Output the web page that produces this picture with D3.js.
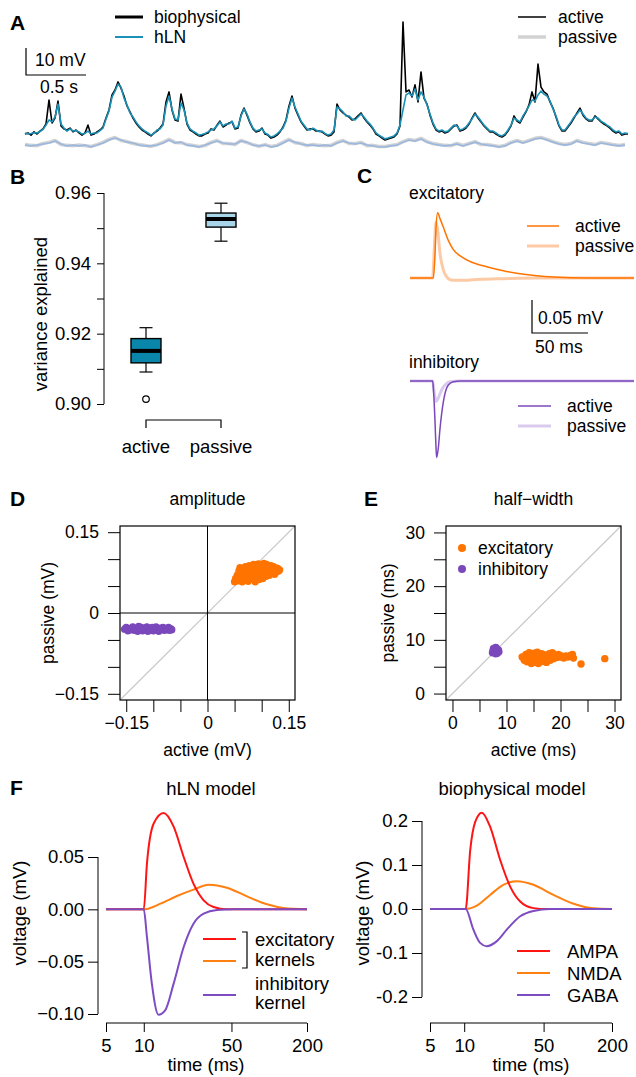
<!DOCTYPE html>
<html>
<head>
<meta charset="utf-8">
<script src="https://cdn.jsdelivr.net/npm/d3@7"></script>
<style>
body { margin: 0; background: #fff; }
svg text { font-family: "Liberation Sans", Arial, sans-serif; font-size: 17.5px; fill: #000; }
svg text.big { font-size: 18.5px; }
svg text.leg { font-size: 17.5px; }
svg text.letter { font-weight: bold; font-size: 21px; }
</style>
</head>
<body>
<svg id="fig" width="636" height="1077"></svg>
<script>
// ---------- data ----------
// A: voltage traces (mV above rest), one sample every 25 ms
var dtActive = 0.025;
var activeBio = [
  1.1,1.5,0.7,1.9,1.1,2.2,3.0,4.8,13.7,5.2,
  7.0,13.3,4.1,3.0,2.6,3.3,1.9,2.6,1.5,0.7,
  1.5,4.4,0.7,1.1,1.9,2.6,3.7,7.0,10.0,15.6,
  17.4,20.4,18.1,15.2,11.5,9.3,7.0,5.2,3.7,2.6,
  1.9,1.1,0.4,1.5,2.2,3.3,4.8,13.0,16.7,10.0,
  6.3,5.9,15.9,10.7,4.8,2.6,1.9,1.1,0.4,0.4,
  1.1,1.5,3.0,2.6,4.4,5.9,3.7,4.4,5.2,5.6,
  3.0,3.3,8.1,10.7,8.1,5.2,3.0,1.9,2.2,3.3,
  1.1,0.7,-0.4,0.0,0.7,1.9,3.7,6.3,11.5,15.2,
  10.7,8.1,5.6,4.1,2.6,3.0,3.0,2.2,2.2,1.9,
  1.1,0.4,0.7,1.9,12.2,10.0,8.9,8.1,7.4,6.3,
  6.7,7.8,8.9,7.0,5.6,4.4,3.0,1.1,0.4,-0.4,
  -1.1,-0.7,-0.4,0.0,1.1,4.1,42.6,16.7,17.4,14.8,
  19.3,13.0,24.1,14.4,12.2,8.1,4.8,2.6,1.9,2.2,
  1.5,1.9,3.0,4.1,4.4,2.2,2.6,3.3,4.8,7.0,
  8.9,7.0,5.6,4.1,3.0,1.9,1.9,1.1,0.4,0.0,
  0.7,2.2,4.1,7.8,5.9,5.2,7.4,9.3,11.9,16.7,
  13.0,27.0,18.5,16.7,15.9,13.0,10.7,7.4,4.1,2.2,
  2.2,3.7,5.2,7.0,8.9,10.7,8.1,6.7,5.9,5.9,
  7.8,6.7,5.6,4.8,4.1,3.3,2.2,1.5,1.9,0.7,
  1.1,1.1
];
var activeHln = [
  1.5,1.1,1.3,1.6,1.5,2.0,2.8,4.4,6.3,5.6,
  7.4,12.2,4.8,3.3,2.2,3.0,2.2,2.4,1.9,1.1,
  1.3,2.2,1.1,1.5,1.5,2.4,3.3,6.7,9.6,14.8,
  17.0,19.6,18.5,14.4,11.9,8.9,7.4,5.6,4.1,3.0,
  2.2,1.5,0.7,1.3,2.6,3.0,4.4,11.5,15.2,10.4,
  6.7,6.3,12.6,10.0,5.2,3.0,2.2,1.5,0.7,0.9,
  1.3,1.9,2.6,3.0,4.1,5.6,4.1,4.8,4.8,5.9,
  3.3,3.7,7.8,10.4,8.5,5.6,3.3,2.2,2.6,3.0,
  1.5,0.9,0.0,0.4,1.1,2.2,3.3,5.9,10.7,14.4,
  11.1,8.5,5.9,4.4,3.0,2.6,3.3,2.6,2.0,2.2,
  1.3,0.7,1.1,2.6,11.1,10.4,9.3,7.8,7.8,6.7,
  6.3,7.4,8.5,7.4,5.9,4.8,3.3,1.5,0.7,0.0,
  -0.7,-0.4,0.0,0.4,1.5,4.4,10.0,15.6,16.3,15.2,
  17.8,13.7,16.7,14.8,11.9,8.5,5.2,3.0,2.2,2.6,
  1.9,2.2,3.3,4.4,4.1,2.6,3.0,3.7,5.2,6.7,
  8.5,7.4,5.9,4.4,3.3,2.2,2.2,1.5,0.7,0.4,
  1.1,2.6,4.4,7.0,6.3,5.6,7.8,9.6,11.5,13.7,
  13.3,15.6,17.0,15.9,15.2,13.3,10.4,7.8,4.4,2.6,
  2.6,4.1,5.6,7.4,8.5,10.0,8.5,7.0,6.3,6.3,
  7.4,7.0,5.9,5.2,4.4,3.7,2.6,1.9,2.2,1.1,
  1.5,1.3
];
// passive traces, one sample every 50 ms
var dtPassive = 0.05;
var passiveBio = [
  -2.8,-3.1,-3.2,-2.4,-2.0,-1.3,-2.8,-3.1,-3.2,-3.0,
  -3.2,-3.5,-2.8,-2.0,-0.9,-0.2,-1.3,-1.7,-2.4,-2.8,
  -3.1,-3.5,-2.8,-2.0,-0.9,-2.0,-2.1,-2.8,-3.1,-3.5,
  -3.2,-2.0,-1.3,-2.4,-2.4,-2.8,-1.3,-2.1,-2.8,-3.5,
  -2.8,-3.5,-3.1,-2.0,-0.9,-2.1,-2.4,-3.2,-2.8,-3.1,
  -3.2,-3.1,-2.0,-1.3,-2.4,-2.4,-2.0,-3.2,-3.1,-3.5,
  -3.5,-3.1,-2.8,-1.7,-0.9,-1.3,-0.5,-1.7,-2.4,-2.8,
  -3.1,-3.2,-2.4,-3.1,-2.4,-1.7,-2.8,-2.8,-3.1,-3.5,
  -3.1,-2.0,-1.3,-2.0,-1.3,-0.5,-0.2,-0.9,-1.7,-2.4,
  -2.8,-2.4,-1.3,-2.0,-2.4,-2.8,-2.0,-2.4,-2.8,-3.1,
  -2.8
];
var passiveHln = [
  -3.0,-3.3,-3.0,-2.6,-2.2,-1.5,-2.6,-3.3,-3.0,-3.3,
  -3.0,-3.7,-3.0,-2.2,-1.1,-0.4,-1.1,-1.9,-2.2,-3.0,
  -3.3,-3.3,-3.0,-2.2,-1.1,-2.2,-1.9,-3.0,-3.3,-3.7,
  -3.0,-2.2,-1.5,-2.2,-2.6,-2.6,-1.5,-1.9,-3.0,-3.3,
  -3.0,-3.7,-3.3,-2.2,-1.1,-1.9,-2.6,-3.0,-3.0,-3.3,
  -3.0,-3.3,-2.2,-1.5,-2.2,-2.6,-2.2,-3.0,-3.3,-3.7,
  -3.7,-3.3,-3.0,-1.9,-1.1,-1.5,-0.7,-1.9,-2.6,-3.0,
  -3.3,-3.0,-2.6,-3.3,-2.6,-1.9,-2.6,-3.0,-3.3,-3.7,
  -3.3,-2.2,-1.5,-2.2,-1.5,-0.7,-0.4,-1.1,-1.9,-2.6,
  -3.0,-2.6,-1.5,-2.2,-2.6,-3.0,-2.2,-2.6,-3.0,-3.3,
  -3.0
];

// B: variance explained box statistics
var boxGroups = ["active", "passive"];
var boxLow = [0.9091, 0.9463];
var boxQ1 = [0.9117, 0.9503];
var boxMedian = [0.9151, 0.9526];
var boxQ3 = [0.9186, 0.9543];
var boxHigh = [0.9217, 0.9571];
var boxOutliers = [[0, 0.9014]];
var bTicks = [0.90, 0.91, 0.92, 0.93, 0.94, 0.95, 0.96];

// C: PSP shapes, [time ms, mV]
var excActive = [[0,0],[20.8,0],[22.3,0.035],[23.2,0.075],[24.7,0.099],[26.8,0.09],[29.8,0.077],[34.2,0.057],[38.7,0.043],[46.1,0.032],[53.6,0.025],[68.5,0.017],[83.3,0.011],[98.2,0.0066],[113,0.0035],[128,0.0015],[157.7,0],[200,0]];
var excPassive = [[0,0],[20.2,0],[21.7,0.045],[23.2,0.085],[24.7,0.072],[26.8,0.037],[29.8,0.012],[32.7,0.002],[34.2,-0.001],[38.7,-0.0035],[47.6,-0.0035],[62.5,-0.002],[83.3,-0.001],[113,0],[200,0]];
var inhActive = [[0,0],[20.2,0],[20.8,-0.01],[22.3,-0.06],[23.2,-0.1],[23.8,-0.116],[25.3,-0.101],[26.8,-0.072],[28.3,-0.049],[31.25,-0.019],[34.2,-0.006],[38.7,-0.001],[44.6,0],[200,0]];
var inhPassive = [[0,0],[20.2,0],[21.7,-0.018],[23.2,-0.031],[24.7,-0.028],[26.8,-0.019],[29.8,-0.009],[31.25,-0.006],[35.7,-0.001],[44.6,0],[200,0]];

// D: amplitude, [active, passive] in mV
var ampExc = [[0.050,0.058],[0.052,0.064],[0.055,0.070],[0.057,0.060],[0.058,0.078],[0.060,0.084],[0.061,0.066],[0.063,0.074],[0.064,0.058],[0.066,0.080],[0.067,0.069],[0.069,0.062],[0.070,0.086],[0.071,0.075],[0.073,0.081],[0.074,0.066],[0.075,0.059],[0.077,0.088],[0.078,0.072],[0.079,0.078],[0.081,0.084],[0.082,0.063],[0.083,0.069],[0.085,0.090],[0.086,0.076],[0.087,0.082],[0.088,0.058],[0.089,0.066],[0.090,0.087],[0.091,0.072],[0.093,0.079],[0.094,0.091],[0.095,0.062],[0.096,0.084],[0.097,0.069],[0.098,0.075],[0.100,0.088],[0.101,0.080],[0.102,0.064],[0.103,0.071],[0.104,0.092],[0.105,0.077],[0.106,0.085],[0.108,0.068],[0.109,0.090],[0.110,0.074],[0.111,0.081],[0.113,0.086],[0.114,0.070],[0.115,0.078],[0.117,0.088],[0.118,0.073],[0.119,0.083],[0.121,0.077],[0.122,0.086],[0.124,0.072],[0.125,0.081],[0.127,0.076],[0.129,0.083],[0.131,0.078],[0.133,0.080]];
var ampInh = [[-0.153,-0.030],[-0.150,-0.027],[-0.147,-0.033],[-0.144,-0.029],[-0.141,-0.031],[-0.138,-0.026],[-0.135,-0.032],[-0.132,-0.029],[-0.129,-0.034],[-0.127,-0.025],[-0.125,-0.030],[-0.122,-0.027],[-0.120,-0.033],[-0.117,-0.029],[-0.115,-0.031],[-0.112,-0.026],[-0.110,-0.034],[-0.107,-0.028],[-0.105,-0.031],[-0.102,-0.027],[-0.100,-0.033],[-0.097,-0.029],[-0.095,-0.026],[-0.092,-0.031],[-0.090,-0.034],[-0.087,-0.028],[-0.085,-0.030],[-0.082,-0.027],[-0.080,-0.032],[-0.077,-0.029],[-0.075,-0.031],[-0.072,-0.027],[-0.070,-0.032],[-0.068,-0.029],[-0.066,-0.031]];
var dTicks = [-0.15, -0.1, -0.05, 0, 0.05, 0.1, 0.15];
var dLabels = [-0.15, 0, 0.15];

// E: half-width, [active, passive] in ms
var hwExc = [[12.9,6.8],[13.3,6.2],[13.6,7.3],[13.8,5.9],[14.0,6.6],[14.2,7.6],[14.4,6.1],[14.6,5.6],[14.7,7.0],[14.9,6.4],[15.1,7.5],[15.2,5.8],[15.4,6.8],[15.6,6.2],[15.7,7.7],[15.9,5.6],[16.0,7.1],[16.2,6.5],[16.3,5.9],[16.5,7.4],[16.7,6.7],[16.8,6.0],[17.0,7.2],[17.2,6.4],[17.4,5.8],[17.5,7.0],[17.7,6.6],[17.9,7.4],[18.1,6.2],[18.3,6.9],[18.5,7.6],[18.7,6.5],[19.0,7.1],[19.3,6.7],[19.6,7.3],[19.9,6.8],[20.2,7.0],[20.6,6.6],[21.0,7.0],[21.4,6.8],[21.8,7.1],[22.2,7.3],[22.4,6.6],[23.8,5.5],[28.2,6.5]];
var hwInh = [[7.4,7.6],[7.6,8.4],[7.9,7.9],[8.1,8.5],[8.3,7.5],[8.5,8.1],[7.8,8.2],[8.2,7.8],[7.5,8.0],[8.6,7.8],[8.0,8.6],[8.0,7.4]];
var eTicks = [0, 5, 10, 15, 20, 25, 30];
var eLabels = [0, 10, 20, 30];

// F: kernels, [time ms, mV]
var hlnExc1 = [[5,0],[10,0],[10.6,0.0436],[12,0.082],[14.4,0.092],[17.3,0.079],[20.8,0.05],[24.9,0.0245],[30,0.0086],[36,0.0022],[46,0],[200,0]];
var hlnExc2 = [[5,0],[10,0],[13.6,0.0054],[18.4,0.0127],[24.9,0.0188],[32.9,0.0236],[46,0.0207],[66.5,0.0124],[96,0.0048],[130,0.0013],[200,0]];
var hlnInh = [[5,0],[10,0],[10.6,-0.0264],[11.6,-0.071],[13.1,-0.1006],[14.8,-0.0965],[17.3,-0.071],[20.8,-0.036],[24.9,-0.0137],[30,-0.0041],[38.3,-0.0006],[52,0],[200,0]];
var bioAMPA = [[5,0],[10.3,0],[11.3,0.134],[12.5,0.198],[14.3,0.219],[16.9,0.187],[20.7,0.112],[25.4,0.051],[31.1,0.017],[40.7,0.002],[53.4,0],[200,0]];
var bioNMDA = [[5,0],[10.3,0],[12.9,0.0075],[16.9,0.032],[22.1,0.055],[29.1,0.063],[40.7,0.055],[61.1,0.032],[91.8,0.012],[138,0.0015],[200,0]];
var bioGABA = [[5,0],[10.3,0],[12.05,-0.047],[13.8,-0.077],[15.8,-0.0845],[19.4,-0.073],[23.7,-0.047],[31.1,-0.0166],[40.7,-0.0045],[57,0],[200,0]];
var fTimeTicks = [5, 10, 50, 200];
var fLeftTicks = [-0.10, -0.05, 0.00, 0.05];
var fRightTicks = [-0.2, -0.1, 0.0, 0.1, 0.2];

var orange = "#ff7400", purple = "#7a48bb";

var svg = d3.select("#fig");

function addText(g, x, y, s, cls, anchor) {
  return g.append("text").attr("x", x).attr("y", y).attr("class", cls || null)
    .attr("text-anchor", anchor || "start").text(s);
}
function rotText(g, x, y, s, cls) {
  return g.append("text").attr("class", cls || null).attr("text-anchor", "middle")
    .attr("transform", "translate(" + x + "," + y + ") rotate(-90)").text(s);
}
function hline(g, x1, x2, y, color, w) {
  return g.append("line").attr("x1", x1).attr("x2", x2).attr("y1", y).attr("y2", y)
    .attr("stroke", color).attr("stroke-width", w);
}
// R style axis: line spans first..last tick
function styleAxis(a, cls) {
  a.attr("font-size", null).attr("font-family", null);
  a.select(".domain").remove();
  a.selectAll("text").attr("class", cls || null);
}

// ---------- A ----------
var gA = svg.append("g");
var xA = d3.scaleLinear().domain([0, 5.025]).range([25, 628]);
var yA = d3.scaleLinear().domain([0, 10]).range([137, 110]);
function traceA(dt) {
  return d3.line().x(function(d, i) { return xA(i * dt); }).y(function(d) { return yA(d); });
}
gA.append("path").datum(passiveBio).attr("d", traceA(dtPassive))
  .attr("fill", "none").attr("stroke", "#d3d3d3").attr("stroke-width", 3.5).attr("stroke-linejoin", "round");
gA.append("path").datum(passiveHln).attr("d", traceA(dtPassive))
  .attr("fill", "none").attr("stroke", "#9ab7df").attr("stroke-width", 1.6).attr("stroke-linejoin", "round");
gA.append("path").datum(activeBio).attr("d", traceA(dtActive))
  .attr("fill", "none").attr("stroke", "#000").attr("stroke-width", 1.6).attr("stroke-linejoin", "round");
gA.append("path").datum(activeHln).attr("d", traceA(dtActive))
  .attr("fill", "none").attr("stroke", "#1b91b7").attr("stroke-width", 1.6).attr("stroke-linejoin", "round");

// scale bar
var sbx = 26, sby = 75;
gA.append("path")
  .attr("d", "M" + sbx + "," + (sby - (yA(0) - yA(10))) + "V" + sby + "H" + (sbx + xA(0.5) - xA(0)))
  .attr("fill", "none").attr("stroke", "#000").attr("stroke-width", 1.2);
addText(gA, 35, 66, "10 mV");
addText(gA, 40, 93, "0.5 s");

hline(gA, 115, 143, 17, "#000", 3);
hline(gA, 115, 143, 37, "#1b91b7", 2);
addText(gA, 154, 23, "biophysical", "leg");
addText(gA, 154, 43, "hLN", "leg");
hline(gA, 518, 546, 17, "#000", 1.5);
hline(gA, 518, 546, 37, "#d3d3d3", 3.5);
addText(gA, 558, 23, "active", "leg");
addText(gA, 558, 43, "passive", "leg");
addText(gA, 10, 30, "A", "letter");

// ---------- B ----------
var gB = svg.append("g");
var yB = d3.scaleLinear().domain([0.90, 0.96]).range([404, 193]);
var xB = d3.scalePoint().domain(boxGroups).range([146, 221]);
var axB = gB.append("g").attr("transform", "translate(104,0)")
  .call(d3.axisLeft(yB).tickValues(bTicks).tickSize(7).tickPadding(6)
    .tickFormat(function(d, i) { return i % 2 === 0 ? d3.format(".2f")(d) : ""; }));
styleAxis(axB, "big");
axB.append("line").attr("y1", yB(0.90)).attr("y2", yB(0.96)).attr("stroke", "#000");

var boxFill = ["#0a86aa", "#a9d5e8"];
var boxW = 30, capW = 13;
boxGroups.forEach(function(g, i) {
  var cx = xB(g);
  gB.append("line").attr("x1", cx).attr("x2", cx).attr("y1", yB(boxLow[i])).attr("y2", yB(boxHigh[i]))
    .attr("stroke", "#000").attr("stroke-width", 1.2);
  hline(gB, cx - capW / 2, cx + capW / 2, yB(boxLow[i]), "#000", 1.2);
  hline(gB, cx - capW / 2, cx + capW / 2, yB(boxHigh[i]), "#000", 1.2);
  gB.append("rect").attr("x", cx - boxW / 2).attr("width", boxW)
    .attr("y", yB(boxQ3[i])).attr("height", yB(boxQ1[i]) - yB(boxQ3[i]))
    .attr("fill", boxFill[i]).attr("stroke", "#000").attr("stroke-width", 1.4);
  hline(gB, cx - boxW / 2, cx + boxW / 2, yB(boxMedian[i]), "#000", 4);
});
boxOutliers.forEach(function(o) {
  gB.append("circle").attr("cx", xB(boxGroups[o[0]])).attr("cy", yB(o[1])).attr("r", 3.3)
    .attr("fill", "none").attr("stroke", "#000").attr("stroke-width", 1.2);
});
gB.append("path")
  .attr("d", "M" + xB("active") + ",428V420H" + xB("passive") + "V428")
  .attr("fill", "none").attr("stroke", "#000").attr("stroke-width", 1.2);
boxGroups.forEach(function(g) { addText(gB, xB(g), 453, g, "big", "middle"); });
rotText(gB, 47, 314, "variance explained", "big");
addText(gB, 10, 184, "B", "letter");

// ---------- C ----------
var gC = svg.append("g");
var xC = d3.scaleLinear().domain([0, 200]).range([410, 634]);
var yCe = d3.scaleLinear().domain([0, 0.1]).range([278, 212]);
var yCi = d3.scaleLinear().domain([0, 0.1]).range([381, 315]);
function curveC(ys) {
  return d3.line().curve(d3.curveMonotoneX).x(function(d) { return xC(d[0]); }).y(function(d) { return ys(d[1]); });
}
function drawPath(g, data, gen, color, w) {
  return g.append("path").datum(data).attr("d", gen).attr("fill", "none")
    .attr("stroke", color).attr("stroke-width", w).attr("stroke-linejoin", "round");
}
drawPath(gC, excPassive, curveC(yCe), "#fdcaa6", 3);
drawPath(gC, excActive, curveC(yCe), orange, 1.5);
drawPath(gC, inhPassive, curveC(yCi), "#dacbee", 3);
drawPath(gC, inhActive, curveC(yCi), purple, 1.5);

addText(gC, 409, 199, "excitatory");
addText(gC, 409, 368, "inhibitory");
hline(gC, 527, 559, 226, orange, 1.5);
hline(gC, 527, 559, 246, "#fdcaa6", 3);
addText(gC, 575, 232, "active");
addText(gC, 575, 252, "passive");
hline(gC, 518, 551, 406, purple, 1.5);
hline(gC, 518, 551, 426, "#dacbee", 3);
addText(gC, 567, 412, "active");
addText(gC, 567, 432, "passive");

var cbx = 532, cby = 333;
gC.append("path")
  .attr("d", "M" + cbx + "," + (cby - (yCe(0) - yCe(0.05))) + "V" + cby + "H" + (cbx + xC(50) - xC(0)))
  .attr("fill", "none").attr("stroke", "#000").attr("stroke-width", 1.2);
addText(gC, 538, 324, "0.05 mV");
addText(gC, 535, 353, "50 ms");
addText(gC, 357, 183, "C", "letter");

// ---------- D / E scatter panels ----------
function scatterPanel(opt) {
  var g = svg.append("g");
  var x = d3.scaleLinear().domain(opt.dom).range([opt.left, opt.right]);
  var y = d3.scaleLinear().domain(opt.dom).range([700, 526]);
  var ax = g.append("g").attr("transform", "translate(" + opt.left + ",0)")
    .call(d3.axisLeft(y).tickValues(opt.ticks).tickSize(12).tickPadding(9).tickFormat(opt.fmt));
  styleAxis(ax);
  var bx = g.append("g").attr("transform", "translate(0,700)")
    .call(d3.axisBottom(x).tickValues(opt.ticks).tickSize(12).tickPadding(5).tickFormat(opt.fmt));
  styleAxis(bx);
  // diagonal y = x
  g.append("line").attr("x1", x(opt.dom[0])).attr("y1", y(opt.dom[0]))
    .attr("x2", x(opt.dom[1])).attr("y2", y(opt.dom[1])).attr("stroke", "#c8c8c8").attr("stroke-width", 1.2);
  if (opt.zero) {
    g.append("line").attr("x1", x(0)).attr("x2", x(0)).attr("y1", 526).attr("y2", 700).attr("stroke", "#000");
    hline(g, opt.left, opt.right, y(0), "#000", 1);
  }
  opt.sets.forEach(function(s) {
    g.selectAll(null).data(s.data).enter().append("circle")
      .attr("cx", function(d) { return x(d[0]); }).attr("cy", function(d) { return y(d[1]); })
      .attr("r", 3.7).attr("fill", s.color);
  });
  g.append("rect").attr("x", opt.left).attr("y", 526).attr("width", opt.right - opt.left).attr("height", 174)
    .attr("fill", "none").attr("stroke", "#000").attr("stroke-width", 1.2);
  var mid = (opt.left + opt.right) / 2;
  addText(g, mid, 505, opt.title, null, "middle");
  addText(g, mid, 756, opt.xlab, null, "middle");
  rotText(g, opt.ylabX, 613, opt.ylab);
  addText(g, opt.letterX, 506, opt.letter, "letter");
  return {g: g, x: x, y: y};
}

var fmtD = function(d) { return dLabels.indexOf(d) >= 0 ? (d === 0 ? "0" : d3.format(".2f")(d)) : ""; };
scatterPanel({
  left: 120, right: 295, dom: [-0.1615, 0.1615], ticks: dTicks, fmt: fmtD, zero: true,
  sets: [{data: ampExc, color: orange}, {data: ampInh, color: purple}],
  title: "amplitude", xlab: "active (mV)", ylab: "passive (mV)", ylabX: 54, letter: "D", letterX: 10
});

var fmtE = function(d) { return eLabels.indexOf(d) >= 0 ? String(d) : ""; };
var pE = scatterPanel({
  left: 446, right: 621, dom: [-1.2, 31.2], ticks: eTicks, fmt: fmtE, zero: false,
  sets: [{data: hwExc, color: orange}, {data: hwInh, color: purple}],
  title: "half\u2212width", xlab: "active (ms)", ylab: "passive (ms)", ylabX: 394, letter: "E", letterX: 364
});
pE.g.append("circle").attr("cx", 462).attr("cy", 548).attr("r", 4).attr("fill", orange);
pE.g.append("circle").attr("cx", 462).attr("cy", 569).attr("r", 4).attr("fill", purple);
addText(pE.g, 478, 554, "excitatory");
addText(pE.g, 478, 575, "inhibitory");

// ---------- F ----------
function kernelPanel(opt) {
  var g = svg.append("g");
  var x = d3.scaleLog().domain([5, 200]).range(opt.xr);
  var y = d3.scaleLinear().domain(opt.ydom).range(opt.yr);
  var ay = g.append("g").attr("transform", "translate(" + opt.axX + ",0)")
    .call(d3.axisLeft(y).tickValues(opt.yticks).tickSize(10).tickPadding(4).tickFormat(opt.fmt));
  styleAxis(ay, "big");
  ay.append("line").attr("y1", y(opt.yticks[0])).attr("y2", y(opt.yticks[opt.yticks.length - 1])).attr("stroke", "#000");
  var axx = g.append("g").attr("transform", "translate(0,1023)")
    .call(d3.axisBottom(x).tickValues(fTimeTicks).tickSize(9).tickPadding(7).tickFormat(d3.format("d")));
  styleAxis(axx, "big");
  axx.append("line").attr("x1", x(5)).attr("x2", x(200)).attr("stroke", "#000");
  var gen = d3.line().curve(d3.curveMonotoneX)
    .x(function(d) { return x(d[0]); }).y(function(d) { return y(d[1]); });
  opt.series.forEach(function(s) { drawPath(g, s.data, gen, s.color, 2); });
  addText(g, opt.titleX, 795, opt.title, "big", "middle");
  addText(g, opt.timeX, 1071, "time (ms)", "big", "middle");
  rotText(g, opt.ylabX, 913, "voltage (mV)", "big");
  return g;
}

var red = "#ff1414", orangeF = "#ff8010", purpleF = "#7e4cc2";
var gF1 = kernelPanel({
  xr: [106, 307], ydom: [-0.10, 0.05], yr: [1014, 857], axX: 98, yticks: fLeftTicks,
  fmt: d3.format(".2f"),
  series: [{data: hlnExc2, color: orangeF}, {data: hlnExc1, color: red}, {data: hlnInh, color: purpleF}],
  title: "hLN model", titleX: 211, timeX: 206, ylabX: 26
});
hline(gF1, 203, 236, 939, red, 2);
hline(gF1, 203, 236, 961, orangeF, 2);
hline(gF1, 203, 236, 995, purpleF, 2);
gF1.append("path").attr("d", "M242,932H247V968H242").attr("fill", "none").attr("stroke", "#000").attr("stroke-width", 1.2);
addText(gF1, 255, 946, "excitatory", "big");
addText(gF1, 255, 966, "kernels", "big");
addText(gF1, 255, 990, "inhibitory", "big");
addText(gF1, 255, 1009, "kernel", "big");
addText(gF1, 10, 795, "F", "letter");

var gF2 = kernelPanel({
  xr: [430, 612], ydom: [-0.2, 0.2], yr: [997, 821], axX: 422, yticks: fRightTicks,
  fmt: function(d) { return d3.format(".1f")(d).replace("\u2212", "-"); },
  series: [{data: bioNMDA, color: orangeF}, {data: bioAMPA, color: red}, {data: bioGABA, color: purpleF}],
  title: "biophysical model", titleX: 512, timeX: 531, ylabX: 369
});
hline(gF2, 517, 550, 951, red, 2);
hline(gF2, 517, 550, 973, orangeF, 2);
hline(gF2, 517, 550, 995, purpleF, 2);
addText(gF2, 567, 958, "AMPA", "big");
addText(gF2, 567, 980, "NMDA", "big");
addText(gF2, 567, 1002, "GABA", "big");
</script>
</body>
</html>
